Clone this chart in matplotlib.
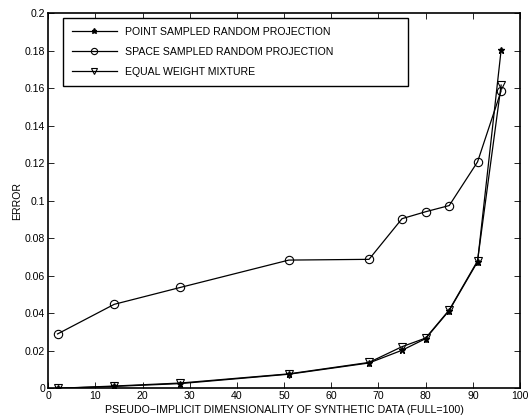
import matplotlib
matplotlib.use("Agg")
import matplotlib.pyplot as plt

plt.rcParams["font.family"] = ["Liberation Sans", "DejaVu Sans"]

dims = [2, 14, 28, 51, 68, 75, 80, 85, 91, 96]
point_err = [0.0, 0.001, 0.0025, 0.0075, 0.0135, 0.0203, 0.0265, 0.0415, 0.0675, 0.1805]
space_err = [0.029, 0.0448, 0.0538, 0.0684, 0.0688, 0.0905, 0.0942, 0.0975, 0.1208, 0.1587]
equal_err = [0.0, 0.0012, 0.0028, 0.0077, 0.0138, 0.0222, 0.0268, 0.0418, 0.068, 0.1618]

fig = plt.figure(figsize=(5.29, 4.2), dpi=100)
ax = fig.add_axes([0.091, 0.0755, 0.892, 0.8925])

ax.plot(dims, point_err, color="black", lw=0.9, marker="*", ms=5,
        label="POINT SAMPLED RANDOM PROJECTION")
ax.plot(dims, space_err, color="black", lw=0.9, marker="o", ms=6,
        mfc="none", mew=0.8, label="SPACE SAMPLED RANDOM PROJECTION")
ax.plot(dims, equal_err, color="black", lw=0.9, marker="v", ms=6,
        mfc="none", mew=0.8, label="EQUAL WEIGHT MIXTURE")

ax.set_xlim(0, 100)
ax.set_ylim(0, 0.2)
ax.set_xticks(range(0, 101, 10))
ax.set_yticks([i * 0.02 for i in range(11)])
ax.set_yticklabels(["0", "0.02", "0.04", "0.06", "0.08", "0.1", "0.12",
                    "0.14", "0.16", "0.18", "0.2"])
ax.tick_params(direction="in", top=True, right=True, labelsize=7.6,
               length=4, width=0.6, pad=2)
for sp in ax.spines.values():
    sp.set_linewidth(1.2)

ax.set_xlabel("PSEUDO\u2212IMPLICIT DIMENSIONALITY OF SYNTHETIC DATA (FULL=100)",
              fontsize=7.7, labelpad=3)
ax.set_ylabel("ERROR", fontsize=7.6, labelpad=2)

# MATLAB-style legend box with extra room on the right
leg = ax.legend(loc="upper left", bbox_to_anchor=(0.032, 0.814, 0.731, 0.1735),
                mode="expand", fontsize=7.6, fancybox=False, framealpha=1,
                edgecolor="black", handlelength=4.2, labelspacing=0.95,
                borderpad=0.85, borderaxespad=0, markerscale=0.75)
leg.get_frame().set_linewidth(1.0)

fig.savefig("out.png", dpi=100)
